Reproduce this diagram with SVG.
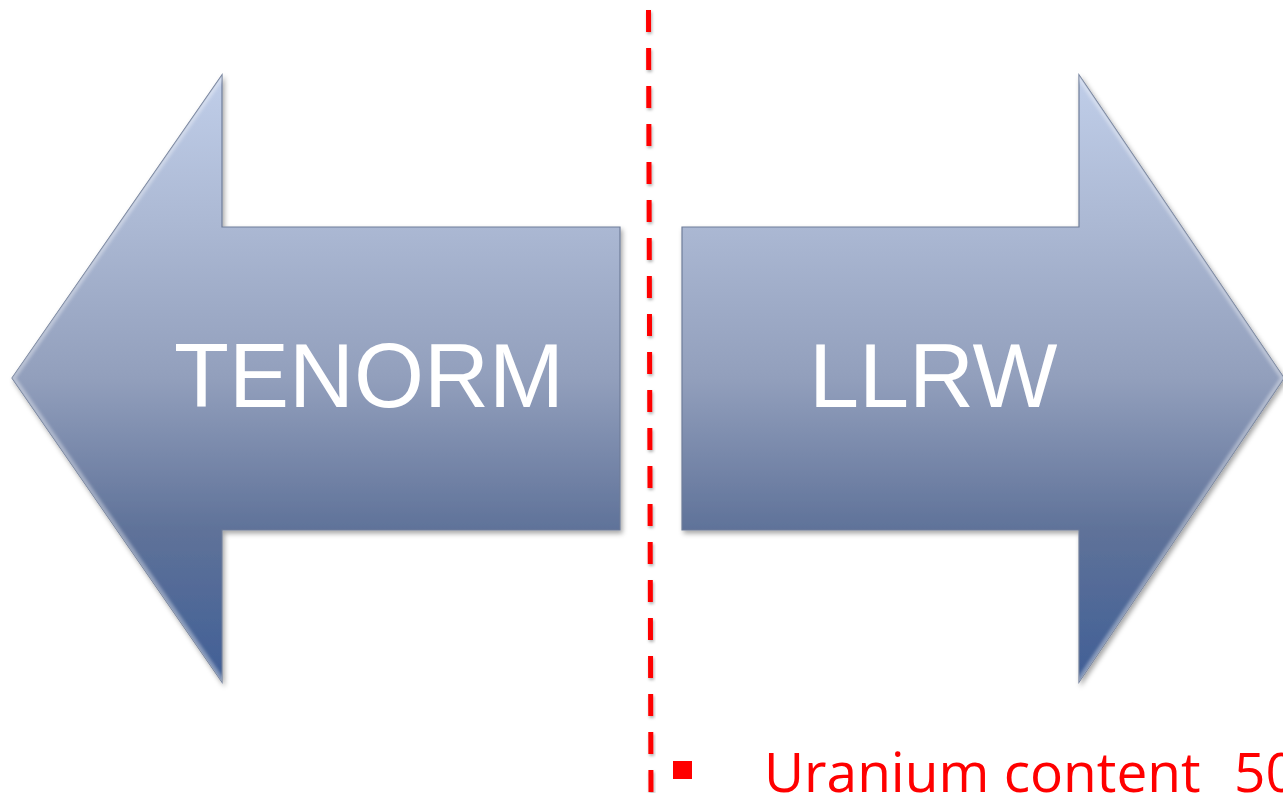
<svg xmlns="http://www.w3.org/2000/svg" width="1283" height="793" viewBox="0 0 1283 793">
  <style>
    .arrow { fill: url(#g); stroke: #6f7d99; stroke-width: 1.2; filter: url(#shadow); }
    .bevel { fill: none; stroke: #ffffff; stroke-opacity: 0.35; stroke-width: 7; filter: url(#soft); }
    .label { font-family: "Liberation Sans", Arial, sans-serif; font-size: 90px; fill: #ffffff; }
    .bullet-text { font-family: "Open Sans", "Liberation Sans", sans-serif; font-size: 55px; fill: #ff0000; }
    .divider { stroke: #ff0000; stroke-width: 5; stroke-dasharray: 22 16; fill: none; filter: url(#lshadow); }
  </style>
  <defs>
    <linearGradient id="g" gradientUnits="userSpaceOnUse" x1="0" y1="75" x2="0" y2="682">
      <stop offset="0" stop-color="#c0cee9"/>
      <stop offset="0.25" stop-color="#abb8d3"/>
      <stop offset="0.5" stop-color="#929fbc"/>
      <stop offset="0.75" stop-color="#5f7299"/>
      <stop offset="1" stop-color="#405f96"/>
    </linearGradient>
    <filter id="shadow" x="-5%" y="-5%" width="110%" height="112%">
      <feDropShadow dx="2" dy="3" stdDeviation="2.5" flood-color="#000" flood-opacity="0.35"/>
    </filter>
    <filter id="soft"><feGaussianBlur stdDeviation="1.5"/></filter>
    <filter id="lshadow" x="-200%" y="-1%" width="500%" height="102%">
      <feDropShadow dx="1" dy="2" stdDeviation="1.5" flood-color="#000" flood-opacity="0.3"/>
    </filter>
    <clipPath id="clipL"><polygon points="12,378 222,75 222,227 620,227 620,530 222,530 222,682"/></clipPath>
    <clipPath id="clipR"><polygon points="682,227 1079,227 1079,75 1284,378 1079,682 1079,530 682,530"/></clipPath>
  </defs>

  <g id="tenorm">
    <polygon class="arrow" points="12,378 222,75 222,227 620,227 620,530 222,530 222,682"/>
    <g clip-path="url(#clipL)">
      <polyline class="bevel" points="222,682 12,378 222,75"/>
    </g>
    <text class="label" x="174" y="407">TENORM</text>
  </g>

  <g id="llrw">
    <polygon class="arrow" points="682,227 1079,227 1079,75 1284,378 1079,682 1079,530 682,530"/>
    <g clip-path="url(#clipR)">
      <polyline class="bevel" points="1079,75 1284,378 1079,682"/>
    </g>
    <text class="label" x="809" y="407">LLRW</text>
  </g>

  <g id="connectors">
    <line class="divider" x1="648.5" y1="10" x2="651" y2="800"/>
  </g>

  <g id="bullet">
    <rect x="673" y="761" width="19" height="18" fill="#ff0000"/>
    <text class="bullet-text" x="764" y="792" xml:space="preserve">Uranium content<tspan x="1234">50</tspan></text>
  </g>
</svg>
